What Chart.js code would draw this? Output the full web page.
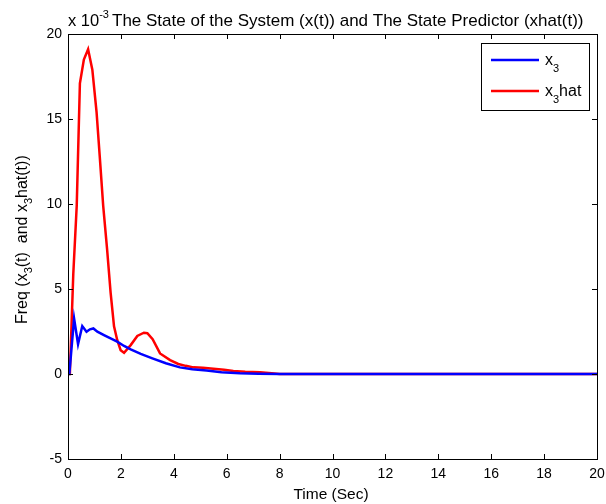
<!DOCTYPE html>
<html>
<head>
<meta charset="utf-8">
<script src="https://cdn.jsdelivr.net/npm/chart.js@4/dist/chart.umd.min.js"></script>
<style>
  body { margin: 0; background: #fff; }
</style>
</head>
<body>
<canvas id="grafica" width="606" height="504"></canvas>
<script>
// values are in units of 10^-3 (as on the axis)
const tiempoX3 = [0, 0.05, 0.23, 0.38, 0.54, 0.7, 0.83, 0.96, 1.11, 1.36, 1.61, 1.86, 2.12, 2.37, 2.75, 3.19, 3.7, 4.23, 4.7, 5.24, 5.8, 6.5, 7.2, 8, 20];
const valoresX3 = [0, 0, 3.27, 1.76, 2.82, 2.49, 2.63, 2.68, 2.49, 2.29, 2.1, 1.9, 1.65, 1.45, 1.18, 0.92, 0.63, 0.39, 0.28, 0.2, 0.1, 0.04, 0.02, 0, 0];

const tiempoX3hat = [0, 0.07, 0.2, 0.33, 0.45, 0.6, 0.76, 0.92, 1.08, 1.2, 1.33, 1.48, 1.61, 1.74, 1.86, 1.99, 2.12, 2.37, 2.62, 2.87, 3.0, 3.2, 3.48, 3.86, 4.17, 4.45, 4.74, 5.1, 5.5, 5.9, 6.25, 6.7, 7.26, 7.7, 8, 20];
const valoresX3hat = [0, 0, 5.9, 9.9, 17.1, 18.5, 19.1, 17.9, 15.4, 12.8, 9.9, 7.3, 4.8, 2.8, 2.0, 1.4, 1.25, 1.7, 2.24, 2.43, 2.4, 2.05, 1.21, 0.82, 0.59, 0.48, 0.39, 0.37, 0.31, 0.25, 0.18, 0.13, 0.1, 0.05, 0, 0];

const ticksX = [0, 2, 4, 6, 8, 10, 12, 14, 16, 18, 20];
const ticksY = [-5, 0, 5, 10, 15, 20];

const fuente = '"Liberation Sans", Arial, sans-serif';

// texto con subindices / superindices: partes [texto, desplazamiento, tamano]
function textoPartes(ctx, partes, x, y) {
  let posX = x;
  partes.forEach(p => {
    ctx.font = p[2] + 'px ' + fuente;
    ctx.fillText(p[0], posX, y + p[1]);
    posX += ctx.measureText(p[0]).width;
  });
  return posX - x;
}

function anchoPartes(ctx, partes) {
  let w = 0;
  partes.forEach(p => {
    ctx.font = p[2] + 'px ' + fuente;
    w += ctx.measureText(p[0]).width;
  });
  return w;
}

const estiloMatlab = {
  id: 'estiloMatlab',
  afterDraw(chart) {
    const ctx = chart.ctx;
    const area = chart.chartArea;
    const sx = chart.scales.x;
    const sy = chart.scales.y;
    ctx.save();
    ctx.strokeStyle = '#000';
    ctx.lineWidth = 1;
    ctx.strokeRect(Math.round(area.left) + 0.5, Math.round(area.top) + 0.5,
      Math.round(area.right - area.left), Math.round(area.bottom - area.top));

    // marcas hacia adentro
    ctx.beginPath();
    ticksX.forEach(v => {
      const px = Math.round(sx.getPixelForValue(v)) + 0.5;
      ctx.moveTo(px, area.bottom); ctx.lineTo(px, area.bottom - 5);
      ctx.moveTo(px, area.top); ctx.lineTo(px, area.top + 5);
    });
    ticksY.forEach(v => {
      const py = Math.round(sy.getPixelForValue(v)) + 0.5;
      ctx.moveTo(area.left, py); ctx.lineTo(area.left + 5, py);
      ctx.moveTo(area.right, py); ctx.lineTo(area.right - 5, py);
    });
    ctx.stroke();

    ctx.fillStyle = '#000';
    ctx.textBaseline = 'alphabetic';
    ctx.textAlign = 'left';

    // titulo con multiplicador
    textoPartes(ctx, [['x 10', 0, 16.5], ['-3', -8, 11]], 68, 26);
    ctx.font = '17px ' + fuente;
    ctx.fillText('The State of the System (x(t)) and The State Predictor (xhat(t))', 112, 26);

    // titulo eje x
    ctx.textAlign = 'center';
    ctx.font = '15.5px ' + fuente;
    ctx.fillText('Time (Sec)', 331, 499);
    ctx.textAlign = 'left';

    // titulo eje y
    const partesY = [['Freq (x', 0, 16], ['3', 5, 11], ['(t)  and x', 0, 16], ['3', 5, 11], ['hat(t))', 0, 16]];
    ctx.translate(27, 324);
    ctx.rotate(-Math.PI / 2);
    textoPartes(ctx, partesY, 0, 0);
    ctx.setTransform(1, 0, 0, 1, 0, 0);

    // leyenda
    ctx.fillStyle = '#fff';
    ctx.fillRect(481, 43, 108, 67);
    ctx.strokeRect(481.5, 43.5, 108, 67);
    chart.data.datasets.forEach((ds, i) => {
      const ly = 60 + i * 31;
      ctx.strokeStyle = ds.borderColor;
      ctx.lineWidth = 2.5;
      ctx.beginPath();
      ctx.moveTo(491, ly); ctx.lineTo(539, ly);
      ctx.stroke();
      ctx.fillStyle = '#000';
      textoPartes(ctx, ds.partesLeyenda, 545, ly + 5);
    });
    ctx.restore();
  }
};

const ctx = document.getElementById('grafica').getContext('2d');
const myChart = new Chart(ctx, {
  type: 'line',
  data: {
    datasets: [
      {
        label: 'x3',
        partesLeyenda: [['x', 0, 16], ['3', 7, 11]],
        data: tiempoX3.map((t, i) => ({ x: t, y: valoresX3[i] })),
        borderColor: '#0000ff',
        borderWidth: 2.5,
        pointRadius: 0,
        tension: 0
      },
      {
        label: 'x3hat',
        partesLeyenda: [['x', 0, 16], ['3', 7, 11], ['hat', 0, 16]],
        data: tiempoX3hat.map((t, i) => ({ x: t, y: valoresX3hat[i] })),
        borderColor: '#ff0000',
        borderWidth: 2.5,
        pointRadius: 0,
        tension: 0
      }
    ]
  },
  options: {
    responsive: false,
    animation: false,
    layout: { padding: { top: 34, right: 9, left: 0, bottom: 0 } },
    plugins: {
      legend: { display: false },
      title: { display: false },
      tooltip: { enabled: false }
    },
    scales: {
      x: {
        type: 'linear',
        min: 0,
        max: 20,
        afterFit: s => { s.height = 45; s.paddingLeft = 0; s.paddingRight = 0; },
        afterBuildTicks: s => { s.ticks = ticksX.map(v => ({ value: v })); },
        grid: { display: false, drawTicks: false },
        border: { display: false },
        ticks: { color: '#000', padding: 7, maxRotation: 0, font: { family: fuente, size: 14 } }
      },
      y: {
        type: 'linear',
        min: -5,
        max: 20,
        afterFit: s => { s.width = 68; s.paddingTop = 0; s.paddingBottom = 0; },
        afterBuildTicks: s => { s.ticks = ticksY.map(v => ({ value: v })); },
        grid: { display: false, drawTicks: false },
        border: { display: false },
        ticks: { color: '#000', padding: 6, font: { family: fuente, size: 14 } }
      }
    }
  },
  plugins: [estiloMatlab]
});
</script>
</body>
</html>
